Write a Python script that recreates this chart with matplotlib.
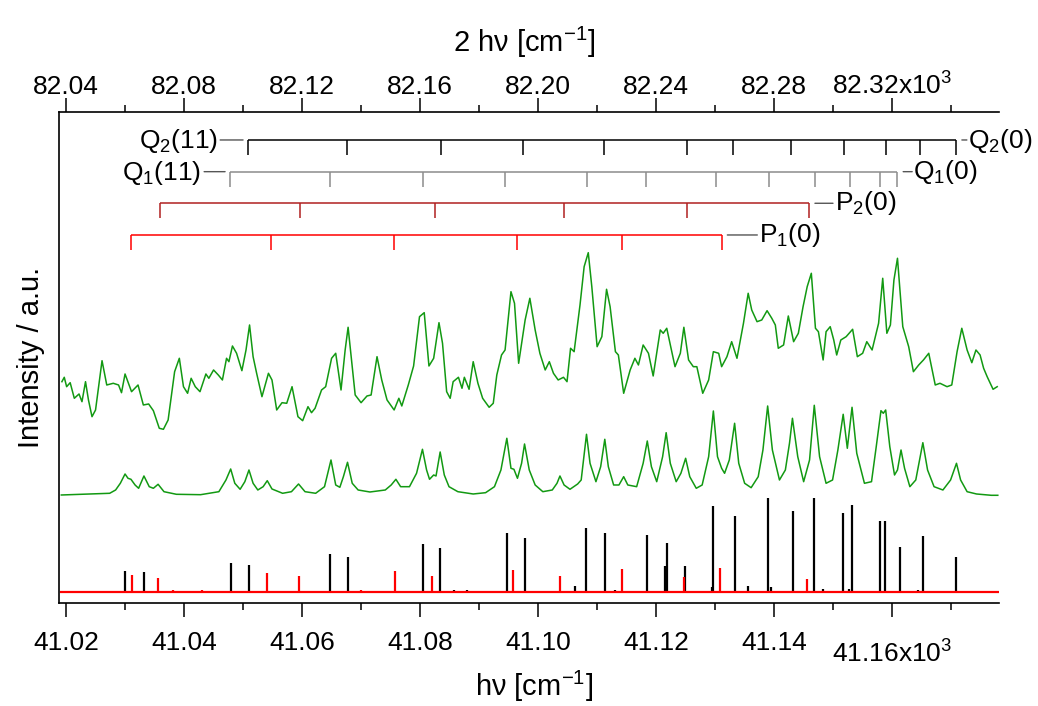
import matplotlib
matplotlib.use("Agg")
import matplotlib.pyplot as plt

plt.rcParams['font.family'] = ['Liberation Sans', 'DejaVu Sans']
plt.rcParams['mathtext.fontset'] = 'custom'
plt.rcParams['mathtext.rm'] = 'Liberation Sans'
plt.rcParams['mathtext.it'] = 'Liberation Sans:italic'
plt.rcParams['mathtext.default'] = 'regular'

# --- experimental trace (h nu in cm-1, intensity in arb. units) ---
exp_x = [41019.3, 41019.7, 41020.1, 41020.7, 41021.4, 41022.2, 41022.7, 41023.3, 41023.8, 41024.4,
         41025.0, 41026.1, 41026.9, 41028.0, 41028.9, 41029.4, 41030.0, 41031.1, 41032.2, 41033.1,
         41034.0, 41034.8, 41035.8, 41036.5, 41037.3, 41038.4, 41039.2, 41039.9, 41040.6, 41041.2,
         41041.9, 41042.7, 41043.7, 41044.2, 41045.0, 41045.8, 41046.5, 41047.2, 41047.6, 41048.2,
         41048.9, 41049.8, 41050.5, 41051.1, 41051.7, 41052.3, 41053.2, 41054.3, 41054.9, 41055.7,
         41056.6, 41057.4, 41058.3, 41059.3, 41060.1, 41061.0, 41061.6, 41062.2, 41063.3, 41064.0,
         41065.0, 41065.7, 41066.6, 41067.3, 41067.8, 41069.0, 41070.0, 41071.0, 41071.7, 41072.7,
         41073.5, 41074.4, 41075.6, 41076.4, 41076.9, 41078.0, 41078.9, 41079.9, 41080.7, 41081.5,
         41082.3, 41083.2, 41083.8, 41084.5, 41085.1, 41085.6, 41086.5, 41087.1, 41087.5, 41088.3,
         41089.0, 41089.8, 41090.6, 41091.7, 41092.4, 41093.0, 41093.8, 41094.4, 41095.4, 41096.0,
         41096.7, 41097.8, 41098.6, 41099.5, 41100.3, 41101.2, 41101.9, 41102.6, 41103.4, 41104.3,
         41104.9, 41105.5, 41106.1, 41107.1, 41107.8, 41108.5, 41109.1, 41110.0, 41110.8, 41111.6,
         41112.2, 41113.1, 41113.6, 41114.5, 41115.6, 41116.4, 41117.0, 41117.8, 41118.7, 41119.5,
         41120.7, 41121.2, 41121.8, 41122.7, 41123.2, 41124.1, 41124.7, 41125.5, 41126.3, 41126.9,
         41127.9, 41128.9, 41129.7, 41130.6, 41131.1, 41132.0, 41132.8, 41133.7, 41134.8, 41135.6,
         41136.2, 41137.1, 41137.9, 41138.8, 41139.6, 41140.2, 41140.7, 41141.6, 41142.4, 41143.3,
         41144.1, 41144.9, 41145.6, 41146.3, 41147.0, 41147.5, 41148.3, 41148.8, 41149.5, 41150.1,
         41150.6, 41151.3, 41152.2, 41153.3, 41154.1, 41155.0, 41155.7, 41156.6, 41157.7, 41158.4,
         41159.1, 41159.7, 41160.3, 41160.9, 41161.8, 41162.8, 41163.6, 41164.5, 41165.3, 41166.2,
         41167.3, 41168.1, 41169.3, 41170.1, 41171.0, 41171.8, 41172.7, 41173.5, 41174.2, 41174.9,
         41175.5, 41176.1, 41177.1, 41177.8]
exp_y = [221.3, 225.7, 216.3, 220.3, 204.7, 209, 201.3, 221.3, 203, 186.3,
         193, 242.3, 218, 219.7, 218, 210.3, 229, 211.3, 218, 198,
         199, 192.3, 174.7, 173.7, 183, 231.3, 244.7, 216.3, 209.7, 224.7,
         216.3, 211.3, 229, 224.7, 233, 228, 223, 244.7, 241.3, 257,
         249.7, 232.3, 253, 278, 246.3, 229.7, 206.3, 229.7, 223, 193,
         200.3, 199.7, 216.3, 186.3, 182.3, 196.3, 190.3, 194.7, 213, 216.3,
         244.7, 249.7, 213, 253, 275.7, 208, 200.3, 207, 208, 246.3,
         223, 203, 193, 204.7, 197, 218, 237, 286.3, 290.3, 237,
         244.7, 280.3, 259.7, 211.3, 204.7, 221.3, 225.7, 214.7, 225.7, 213.7,
         241.3, 219.7, 204.7, 195.7, 199.7, 228, 248, 253, 311.3, 299.7,
         239.7, 283, 304.7, 273, 249.7, 233, 241.3, 229.7, 223, 225.7,
         221.3, 254.7, 251.3, 298, 336.3, 350.3, 316.3, 256.3, 266.3, 313.7,
         296.3, 251.3, 248, 209.7, 233, 244.7, 238, 258, 249.7, 227,
         273, 269.7, 274.7, 249.7, 236.3, 249.7, 275.7, 243, 236.3, 236.3,
         209.7, 223, 251.3, 249.7, 236.3, 246.3, 261.3, 244.7, 279.7, 309.7,
         293, 281.3, 283, 292.3, 284.7, 278, 254.7, 258, 287, 261.3,
         269.7, 296.3, 316.3, 329.7, 274.7, 271.3, 243, 271.3, 276.3, 263,
         248, 263, 266.3, 273.7, 246.3, 249.7, 261.3, 253, 279.7, 324.7,
         269.7, 278, 323, 344.7, 276.3, 256.3, 231.3, 238, 243, 249.7,
         218, 219.7, 216.3, 218, 251.3, 274.7, 253, 240.3, 253, 248,
         234.7, 226.3, 213.7, 216.3]

# --- simulated spectrum ---
sim_x = [41019.2, 41027.4, 41028.4, 41029.2, 41030.0, 41030.5, 41031.0, 41031.7, 41032.3, 41033.2,
         41034.1, 41034.8, 41035.6, 41036.6, 41038.7, 41042.8, 41045.9, 41047.1, 41047.9, 41048.6,
         41049.5, 41050.3, 41051.0, 41051.7, 41052.5, 41053.4, 41054.1, 41054.9, 41056.7, 41058.2,
         41059.4, 41060.5, 41062.3, 41063.8, 41064.9, 41065.7, 41066.4, 41067.0, 41067.7, 41068.5,
         41069.5, 41071.5, 41074.1, 41075.1, 41075.9, 41076.7, 41078.2, 41079.4, 41080.4, 41081.1,
         41081.6, 41082.3, 41082.7, 41083.4, 41084.1, 41084.9, 41086.4, 41089.0, 41091.1, 41092.6,
         41093.7, 41094.7, 41095.4, 41095.9, 41096.5, 41097.2, 41097.7, 41098.5, 41099.5, 41100.8,
         41102.4, 41103.2, 41103.7, 41104.4, 41105.4, 41106.7, 41107.3, 41107.7, 41108.2, 41108.8,
         41109.8, 41110.6, 41111.3, 41111.9, 41112.8, 41113.7, 41114.5, 41115.2, 41116.7, 41117.8,
         41118.5, 41119.2, 41120.1, 41121.1, 41121.7, 41122.4, 41123.4, 41124.2, 41125.0, 41125.7,
         41126.8, 41127.8, 41128.9, 41129.7, 41130.4, 41131.1, 41131.6, 41132.4, 41133.3, 41134.0,
         41135.0, 41136.1, 41137.3, 41138.1, 41138.9, 41139.7, 41140.9, 41141.9, 41142.6, 41143.1,
         41144.0, 41145.0, 41146.0, 41146.8, 41147.7, 41148.8, 41149.9, 41150.8, 41151.7, 41152.4,
         41153.2, 41154.0, 41155.3, 41156.5, 41157.3, 41158.1, 41158.5, 41158.9, 41159.6, 41160.4,
         41160.9, 41161.5, 41162.1, 41163.0, 41164.0, 41165.2, 41166.0, 41167.1, 41168.6, 41169.9,
         41170.9, 41171.6, 41172.7, 41174.3, 41176.8, 41177.9]
sim_y = [108, 109.7, 113, 119.7, 129, 124.7, 123.7, 118, 114.7, 127,
         116.3, 114.7, 118.7, 111.3, 108.7, 108.3, 111.3, 123, 134, 119.7,
         113.7, 121.3, 133, 119.7, 113, 116.3, 122.3, 114, 109.7, 111.3,
         119, 111.3, 109.7, 116.3, 143, 118, 115.7, 126.3, 140.7, 119.7,
         113, 111, 113, 118, 123.7, 116.3, 116.3, 129.7, 153.7, 133,
         123.7, 128, 127, 151, 128, 116.3, 111.3, 109, 110.3, 116.3,
         133, 164.7, 134.7, 133.7, 124.7, 139.7, 159, 133, 118, 111.3,
         113, 119.7, 127, 118, 113.7, 119, 123, 143, 168.7, 139.7,
         121.3, 136.3, 163.7, 136.3, 118, 118, 126.3, 118, 116.3, 139.7,
         162, 136.3, 121.3, 146.3, 170.3, 139.7, 121.3, 129.7, 144.7, 126.3,
         114.7, 118, 146.3, 192, 146.3, 134.7, 129.7, 143, 179.7, 139.7,
         119.7, 115.3, 126.3, 153, 197, 153, 123, 133, 159.7, 184.7,
         146.3, 121.3, 143, 197.7, 146.3, 119.7, 123, 153, 188.7, 154.7,
         195.7, 149.7, 119.7, 121.3, 156.3, 192.3, 189.7, 193, 156.3, 128,
         133, 153, 134.7, 116.3, 123, 160.3, 133, 116.3, 113, 123,
         139.7, 123, 111.3, 109, 107.7, 107.7]

# --- stick spectrum (line positions and intensities) ---
black_x = [41030.0, 41033.2, 41048.0, 41051.0, 41064.7, 41067.7, 41080.5, 41083.4, 41085.8, 41087.9,
           41094.7, 41097.8, 41106.3, 41108.1, 41111.3, 41113.1, 41118.4, 41121.5, 41121.8, 41124.9,
           41129.4, 41129.6, 41133.3, 41135.5, 41138.9, 41139.4, 41143.2, 41146.8, 41148.3, 41151.6,
           41152.7, 41153.2, 41158.0, 41158.8, 41161.4, 41164.4, 41165.2, 41170.8]
black_h = [21.3, 19.7, 28.7, 26.7, 37.7, 35, 48, 44, 2, 2,
           58.7, 53.7, 6.3, 64.3, 59, 2, 57, 26, 48.7, 26,
           4.7, 86, 75.7, 6, 93.7, 5.3, 81, 93.7, 3, 79,
           2.7, 86.7, 71, 71, 45, 2, 56, 35]
red_x = [41031.1, 41035.6, 41038.2, 41043.0, 41054.1, 41059.4, 41070.0, 41075.8, 41082.0, 41095.8,
         41103.7, 41114.2, 41124.7, 41130.9, 41145.5]
red_h = [16.7, 14.3, 2, 2, 19, 15.7, 2, 21, 16.3, 22, 16, 23, 15, 23.7, 13]
stick_base = 11

# --- line assignments (bracket tick positions) ---
q2_pos = [41050.8, 41067.6, 41083.5, 41097.5, 41111.2, 41125.2, 41133.0, 41142.9, 41151.9, 41158.9, 41164.7, 41170.8]
q1_pos = [41047.8, 41064.7, 41080.5, 41094.4, 41108.3, 41118.3, 41130.1, 41139.1, 41147.0, 41152.9, 41157.9, 41160.9]
p2_pos = [41035.9, 41059.7, 41082.5, 41104.4, 41125.2, 41145.9]
p1_pos = [41031.0, 41054.7, 41075.5, 41096.4, 41114.2, 41131.1]

bot_ticks = [41020, 41040, 41060, 41080, 41100, 41120, 41140, 41160]
bot_minor = [41030, 41050, 41070, 41090, 41110, 41130, 41150, 41170]
bot_labels = ['41.02', '41.04', '41.06', '41.08', '41.10', '41.12', '41.14', '41.16x10$^{3}$']
top_ticks = [82040, 82080, 82120, 82160, 82200, 82240, 82280, 82320]
top_minor = [82060, 82100, 82140, 82180, 82220, 82260, 82300, 82340]
top_labels = ['82.04', '82.08', '82.12', '82.16', '82.20', '82.24', '82.28', '82.32x10$^{3}$']

GREEN = '#129912'

fig = plt.figure(figsize=(10.38, 7.06), dpi=100)
ax = fig.add_axes([0.0568, 0.1459, 0.9056, 0.6955])

ax.plot(exp_x, exp_y, color=GREEN, lw=1.1)
ax.plot(sim_x, sim_y, color=GREEN, lw=1.1)

ax.vlines(black_x, stick_base, [stick_base + h for h in black_h], colors='black', lw=1.6)
ax.vlines(red_x, stick_base, [stick_base + h for h in red_h], colors='red', lw=1.6)
ax.axhline(stick_base, color='red', lw=1.6, xmin=0.002)

# brackets
drop = 15
def bracket(pos, level, color):
    ax.hlines(level, min(pos), max(pos), colors=color, lw=1.1)
    ax.vlines(pos, level - drop, level, colors=color, lw=1.1)

def tag(x, level, text, side, gap, length, dx, dy):
    # short connector dash + label next to a bracket end (offsets in points)
    sgn = 1 if side == 'right' else -1
    ax.annotate('', xy=(x, level), xytext=(sgn * (gap + length), 0), textcoords='offset points',
                arrowprops=dict(arrowstyle='-', shrinkA=0, shrinkB=gap, color='#555555', lw=1.0))
    ax.annotate(text, xy=(x, level), xytext=(sgn * dx, dy), textcoords='offset points',
                ha='left' if side == 'right' else 'right', va='baseline', fontsize=19)

bracket(q2_pos, 463, 'black')
bracket(q1_pos, 431.3, '#8c8c8c')
bracket(p2_pos, 399.7, '#b02020')
bracket(p1_pos, 368, 'red')

tag(min(q2_pos), 463, 'Q$_2$(11)', 'left', 3.4, 16.5, 21.4, -5.8)
tag(min(q1_pos), 431.3, 'Q$_1$(11)', 'left', 3.6, 15.1, 21.1, -5.8)
tag(max(q2_pos), 463, 'Q$_2$(0)', 'right', 4.3, 3.6, 8.9, -5.8)
tag(max(q1_pos), 431.3, 'Q$_1$(0)', 'right', 4.1, 6.5, 11.3, -5.4)
tag(max(p2_pos), 399.7, 'P$_2$(0)', 'right', 4.3, 13.0, 18.7, -4.8)
tag(max(p1_pos), 368, 'P$_1$(0)', 'right', 4.1, 21.6, 26.6, -4.8)

# axes
ax.set_xlim(41018.8, 41178.1)
ax.set_ylim(0, 491)
ax.set_yticks([])
for s in ('top', 'right'):
    ax.spines[s].set_visible(False)
for s in ('left', 'bottom'):
    ax.spines[s].set_linewidth(1.2)

ax.set_xticks(bot_ticks, bot_labels)
ax.set_xticks(bot_minor, minor=True)
ax.tick_params(axis='x', which='major', direction='out', length=10, width=1.1, pad=10, labelsize=19)
ax.tick_params(axis='x', which='minor', direction='out', length=5, width=1.1)
# last label carries the x10^3 multiplier and sits a little lower
ax.xaxis.get_major_ticks()[-1].set_pad(17)

ax.set_xlabel('h\u03bd [cm$^{-1}$]', fontsize=21)
ax.xaxis.set_label_coords(0.505, -0.19)
ax.xaxis.label.set_va('baseline')
ax.set_ylabel('Intensity / a.u.', fontsize=21)
ax.yaxis.set_label_coords(-0.021, 0.5)
ax.yaxis.label.set_va('baseline')

sec = ax.secondary_xaxis('top', functions=(lambda v: 2 * v, lambda v: v / 2))
sec.set_xticks(top_ticks, top_labels)
sec.set_xticks(top_minor, minor=True)
sec.tick_params(axis='x', which='major', direction='out', length=10, width=1.1, pad=-1, labelsize=19)
sec.tick_params(axis='x', which='minor', direction='out', length=5, width=1.1)
sec.spines['top'].set_linewidth(1.2)
sec.set_xlabel('2 h\u03bd [cm$^{-1}$]', fontsize=21)
sec.xaxis.set_label_coords(0.495, 1.122, transform=ax.transAxes)
sec.xaxis.label.set_va('baseline')

fig.savefig('out.png', dpi=100)
